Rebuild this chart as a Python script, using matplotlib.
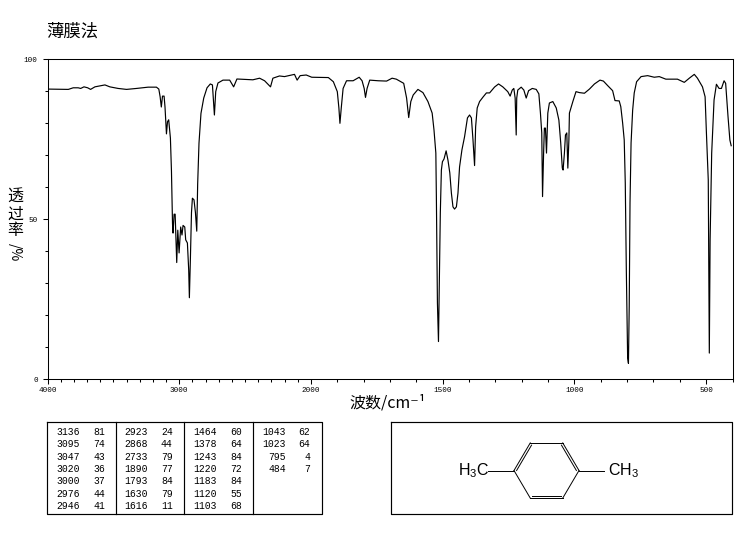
import matplotlib
matplotlib.use('Agg')
import matplotlib.pyplot as plt
import numpy as np

plt.rcParams['font.family'] = ['Noto Sans CJK SC', 'DejaVu Sans']
plt.rcParams['mathtext.default'] = 'regular'

# spectrum
wavenumber = [
    4000, 3842, 3805, 3767, 3748, 3723, 3695, 3673, 3640, 3602, 3564, 3527, 3464, 3400, 3324, 3236,
    3173, 3155, 3145, 3136, 3127, 3115, 3108, 3097, 3089, 3080, 3067, 3059, 3051, 3047, 3039, 3031,
    3026, 3019, 3011, 3001, 2989, 2979, 2971, 2958, 2951, 2938, 2928, 2923, 2915, 2907, 2900, 2888,
    2877, 2867, 2860, 2850, 2835, 2814, 2789, 2764, 2748, 2733, 2723, 2706, 2668, 2617, 2587, 2562,
    2441, 2390, 2352, 2307, 2289, 2239, 2201, 2125, 2105, 2082, 2036, 1997, 1934, 1915, 1900, 1894,
    1890, 1885, 1878, 1865, 1840, 1817, 1806, 1798, 1793, 1787, 1777, 1745, 1713, 1692, 1676, 1663,
    1648, 1637, 1629, 1621, 1612, 1594, 1575, 1556, 1540, 1533, 1526, 1524, 1520, 1516, 1512, 1509,
    1505, 1501, 1495, 1487, 1480, 1473, 1467, 1461, 1455, 1448, 1442, 1436, 1427, 1417, 1406, 1398,
    1391, 1385, 1379, 1375, 1369, 1360, 1347, 1334, 1322, 1303, 1288, 1272, 1253, 1244, 1236, 1230,
    1225, 1221, 1219, 1215, 1202, 1192, 1183, 1174, 1160, 1145, 1135, 1129, 1124, 1121, 1117, 1114,
    1110, 1106, 1101, 1095, 1082, 1069, 1059, 1052, 1046, 1043, 1038, 1034, 1029, 1025, 1021, 1019,
    1006, 994, 981, 962, 943, 924, 903, 890, 874, 855, 846, 830, 824, 817, 811, 807,
    803, 798, 795, 792, 789, 785, 779, 773, 764, 747, 722, 697, 678, 653, 609, 583,
    564, 545, 533, 514, 504, 499, 492, 488, 485, 479, 470, 461, 451, 442, 432, 426,
    417, 410, 405,
]
transmittance = [
    90.6, 90.5, 91.0, 91.0, 90.8, 91.3, 91.0, 90.5, 91.3, 91.6, 91.9, 91.3, 90.8, 90.5, 90.8, 91.2,
    91.2, 90.6, 88.2, 85.0, 88.4, 88.4, 85.0, 76.6, 80.4, 81.0, 75.3, 65.0, 48.5, 45.6, 51.5, 51.5,
    45.6, 36.4, 46.5, 39.4, 47.5, 45.0, 48.0, 47.5, 43.5, 42.5, 34.0, 25.4, 38.0, 52.0, 56.5, 56.0,
    52.0, 46.2, 61.0, 73.7, 83.0, 87.8, 91.0, 92.2, 91.9, 82.5, 89.8, 92.5, 93.4, 93.4, 91.3, 93.75,
    93.5, 94.0, 93.2, 91.3, 94.0, 94.7, 94.5, 95.2, 93.4, 94.8, 95.0, 94.3, 94.2, 92.9, 89.8, 84.7,
    79.9, 84.7, 90.8, 93.2, 93.2, 94.3, 93.2, 90.8, 88.0, 90.8, 93.4, 93.2, 93.1, 94.0, 93.7, 93.1,
    92.4, 87.8, 81.7, 86.7, 88.75, 90.5, 89.5, 86.7, 83.1, 77.8, 70.6, 56.9, 23.75, 11.7, 34.0, 51.9,
    65.3, 67.9, 68.75, 71.3, 68.4, 64.4, 58.1, 53.8, 53.1, 53.8, 58.1, 66.25, 71.6, 75.7, 81.6, 82.5,
    81.6, 74.7, 66.7, 78.8, 84.7, 86.7, 88.1, 89.4, 89.4, 91.25, 92.2, 91.3, 89.8, 88.4, 90.3, 90.8,
    87.8, 76.25, 87.8, 90.3, 91.2, 90.3, 87.8, 90.1, 90.8, 90.5, 89.1, 83.1, 76.9, 57.0, 70.6, 78.4,
    78.4, 70.6, 83.1, 86.25, 86.7, 84.7, 80.9, 73.75, 65.9, 65.3, 70.6, 76.25, 76.9, 65.9, 74.7, 83.1,
    86.7, 89.8, 89.5, 89.3, 90.6, 92.2, 93.4, 93.1, 91.7, 90.1, 87.0, 86.9, 85.1, 80.0, 74.7, 61.25,
    34.0, 6.6, 4.9, 22.6, 55.0, 73.75, 84.0, 89.4, 92.9, 94.5, 94.8, 94.3, 94.5, 93.7, 93.7, 92.7,
    94.0, 95.2, 94.0, 91.3, 88.2, 76.9, 62.2, 8.1, 43.4, 70.6, 87.2, 92.1, 90.8, 90.8, 93.2, 92.4,
    82.0, 74.7, 72.9,
]

# peak table, one list per column
peak_wn = [
    ['3136', '3095', '3047', '3020', '3000', '2976', '2946'],
    ['2923', '2868', '2733', '1890', '1793', '1630', '1616'],
    ['1464', '1378', '1243', '1220', '1183', '1120', '1103'],
    ['1043', '1023', '795', '484'],
]
peak_t = [
    ['81', '74', '43', '36', '37', '44', '41'],
    ['24', '44', '79', '77', '84', '79', '11'],
    ['60', '64', '84', '72', '84', '55', '68'],
    ['62', '64', '4', '7'],
]

x_major = [4000, 3000, 2000, 1500, 1000, 500]
x_minor = list(range(400, 4000, 100))
y_major = [0, 50, 100]
y_minor = list(range(10, 100, 10))

W, H = 748, 539


def forward(w):
    # the wavenumber axis changes scale at 2000, and grows to the right as w falls
    w = np.asarray(w, dtype=float)
    return np.where(w >= 2000, (w - 4000) / 2000, -1 - (2000 - w) / 1000)


def inverse(p):
    p = np.asarray(p, dtype=float)
    return np.where(p >= -1, 4000 + 2000 * p, 2000 + 1000 * (p + 1))


fig = plt.figure(figsize=(W / 100, H / 100), dpi=100, facecolor='white')
ax = fig.add_axes([47.5 / W, 1 - 379 / H, 685 / W, 320 / H])
ax.set_xscale('function', functions=(forward, inverse))
ax.plot(wavenumber, transmittance, color='black', lw=0.85)
ax.set_xticks(x_major)
ax.set_xticks(x_minor, minor=True)
ax.set_yticks(y_major)
ax.set_yticks(y_minor, minor=True)
ax.set_xlim(4000, 400)
ax.set_ylim(0, 100)
ax.tick_params(axis='both', which='major', length=3.6, width=0.75, labelsize=5.5)
ax.tick_params(axis='both', which='minor', length=2.0, width=0.75)
ax.tick_params(axis='x', pad=2)
ax.tick_params(axis='y', pad=3.5)
for lab in ax.get_xticklabels() + ax.get_yticklabels():
    lab.set_family('Liberation Mono')
for s in ax.spines.values():
    s.set_linewidth(0.75)

# overlay in pixel coordinates for the texts, table and structure
ov = fig.add_axes([0, 0, 1, 1])
ov.set_xlim(0, W)
ov.set_ylim(H, 0)
ov.axis('off')

ov.text(46, 32, '薄膜法', fontsize=12.5, va='center', ha='left')
ov.text(388, 403, '波数/cm⁻¹', fontsize=11.5, va='center', ha='center', fontweight='medium')
ov.text(15, 214, '透\n过\n率', fontsize=11.5, va='center', ha='center', linespacing=1.0, fontweight='medium')
ov.text(15, 252, '/%', fontsize=10, va='center', ha='center', rotation=270, fontweight='medium')

# peak table
ov.plot([47.3, 321.7, 321.7, 47.3, 47.3], [422.3, 422.3, 514.3, 514.3, 422.3], color='black', lw=0.85)
for xd in [116.3, 184.3, 253.3]:
    ov.plot([xd, xd], [422.3, 514.3], color='black', lw=0.85)
wn_right = [80, 148, 217, 286]
t_right = [105, 172.7, 242, 310]
for c in range(4):
    for r in range(len(peak_wn[c])):
        yy = 431.7 + 12.4 * r
        ov.text(wn_right[c], yy, peak_wn[c][r], family='Liberation Mono', fontsize=7, ha='right', va='center')
        ov.text(t_right[c], yy, peak_t[c][r], family='Liberation Mono', fontsize=7, ha='right', va='center')

# structure box, p-xylene
ov.plot([390.7, 732.3, 732.3, 390.7, 390.7], [422.3, 422.3, 514, 514, 422.3], color='black', lw=0.85)
cx, cy, rad = 546.5, 470.5, 32.5
ang = np.radians([180, 120, 60, 0, -60, -120])
hx = cx + rad * np.cos(ang)
hy = cy - rad * np.sin(ang) * 0.98
for i in range(6):
    j = (i + 1) % 6
    ov.plot([hx[i], hx[j]], [hy[i], hy[j]], color='black', lw=0.7)
for i in [0, 2, 4]:
    j = (i + 1) % 6
    x1 = cx + (hx[i] - cx) * 0.92
    x2 = cx + (hx[j] - cx) * 0.92
    y1 = cy + (hy[i] - cy) * 0.92
    y2 = cy + (hy[j] - cy) * 0.92
    ov.plot([x1, x2], [y1, y2], color='black', lw=0.7)
ov.plot([488, hx[0]], [cy, cy], color='black', lw=0.7)
ov.plot([hx[3], 604], [cy, cy], color='black', lw=0.7)
ov.text(489, 471, 'H$_3$C', family='Liberation Sans', fontsize=11.5, ha='right', va='center')
ov.text(608, 471, 'CH$_3$', family='Liberation Sans', fontsize=11.5, ha='left', va='center')

fig.savefig('out.png', dpi=100)
